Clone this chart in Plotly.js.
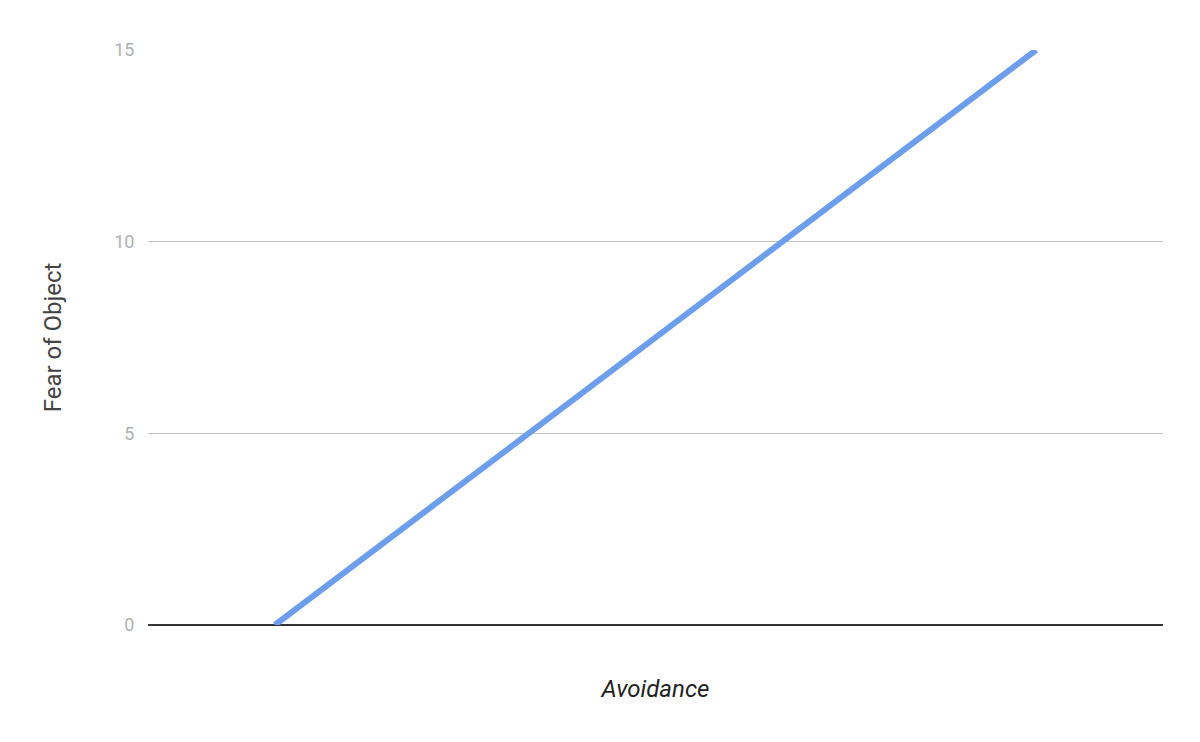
<!DOCTYPE html>
<html>
<head>
<meta charset="utf-8">
<script src="https://cdn.plot.ly/plotly-3.0.1.min.js"></script>
<style>
  html, body { margin: 0; padding: 0; background: #fff; }
  #chart { width: 1200px; height: 742px; }
</style>
</head>
<body>
<div id="chart"></div>
<script>
// four points along the x axis, labels are hidden in the original
const categories = ['1', '2', '3', '4'];
const fearValues = [0, 5, 10, 15];
const yTicks = [0, 5, 10, 15];

const trace = {
    x: categories,
    y: fearValues,
    type: 'scatter',
    mode: 'lines',
    line: { color: '#6d9eeb', width: 6 },
    hoverinfo: 'skip'
};

const layout = {
    width: 1200,
    height: 742,
    margin: { l: 148, r: 37, t: 50, b: 117 },
    paper_bgcolor: '#ffffff',
    plot_bgcolor: '#ffffff',
    showlegend: false,
    font: { family: 'Roboto, sans-serif' },
    xaxis: {
        type: 'category',
        range: [-0.5, 3.5],
        showticklabels: false,
        showgrid: false,
        zeroline: false,
        showline: false,
        ticks: '',
        title: {
            text: '<i>Avoidance</i>',
            font: { size: 24, color: '#222222' },
            standoff: 55
        }
    },
    yaxis: {
        range: [0, 15],
        tickvals: yTicks,
        ticktext: yTicks.map(String),
        tickfont: { size: 18, color: '#b0b0b0' },
        ticks: 'outside',
        ticklen: 9,
        tickcolor: 'rgba(0,0,0,0)',
        showgrid: true,
        gridcolor: '#c0c0c0',
        gridwidth: 1.6,
        zeroline: true,
        zerolinecolor: '#333333',
        zerolinewidth: 2,
        showline: false,
        title: {
            text: 'Fear of Object',
            font: { size: 24, color: '#444444' },
            standoff: 45
        }
    }
};

Plotly.newPlot('chart', [trace], layout, { displayModeBar: false, staticPlot: true });
</script>
</body>
</html>
